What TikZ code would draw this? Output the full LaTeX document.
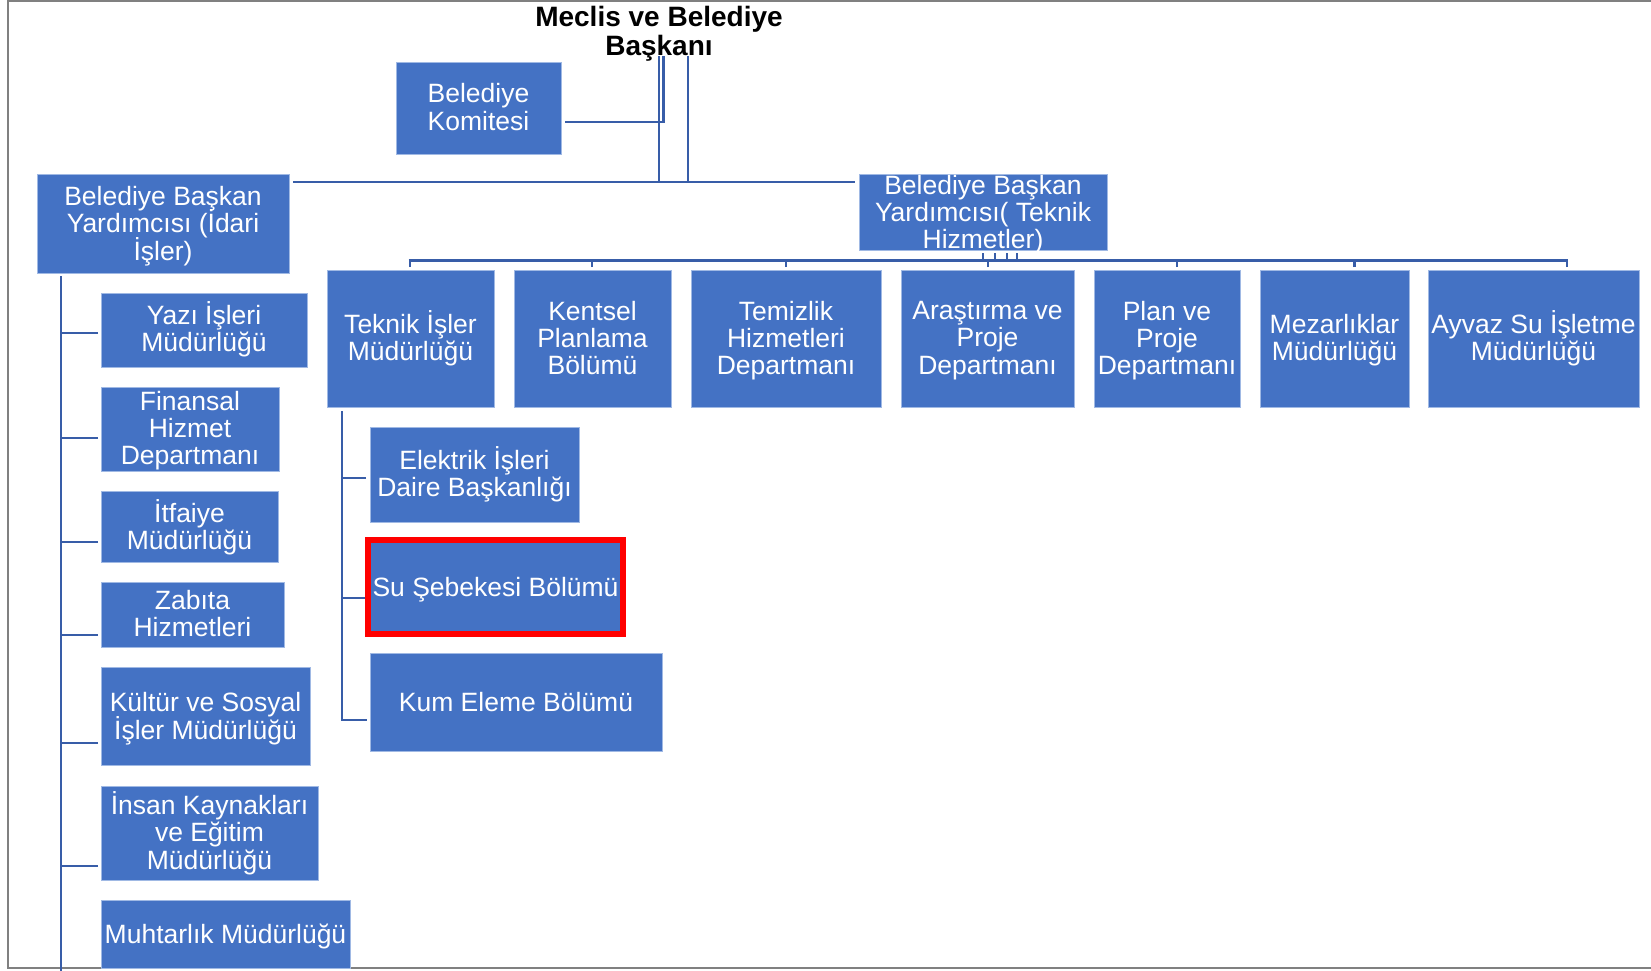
\documentclass[tikz,border=0pt]{standalone}
\usepackage{fontspec}
\setmainfont{Liberation Sans}
\usetikzlibrary{calc}
\definecolor{boxblue}{RGB}{68,114,196}
\definecolor{boxedge}{RGB}{160,185,228}
\definecolor{lineblue}{RGB}{56,93,168}
\definecolor{framegray}{RGB}{128,128,128}
\definecolor{hired}{RGB}{255,0,0}
\newcommand{\myboxfont}{\fontsize{26.5}{27.3}\selectfont}
\newcommand{\mytitlefont}{\bfseries\fontsize{28}{28.5}\selectfont}
\newcommand{\mytopstrut}{\rule{0pt}{26pt}}
\newcommand{\mybotstrut}{\rule[-6.5pt]{0pt}{6.5pt}}
\tikzset{
  box/.style={rectangle, fill=boxblue, draw=boxedge, line width=0.8pt,
    inner sep=0pt, outer sep=0pt},
  hibox/.style={box, draw=hired, line width=6pt},
  boxtext/.style={text=white, align=center, inner sep=0pt, outer sep=0pt, font=\myboxfont,
    execute at begin node=\mytopstrut, execute at end node=\mybotstrut},
  titletext/.style={align=center, inner sep=0pt, outer sep=0pt, font=\mytitlefont},
  conn/.style={draw=lineblue, line width=2.8pt, line cap=butt, line join=miter},
  frameline/.style={draw=framegray, line width=1.6pt}
}
% #1 style, #2 name, #3 cx, #4 cy, #5 width, #6 height, #7 text shift down, #8 text
\newcommand{\orgbox}[8]{%
  \node[#1, minimum width=#5pt, minimum height=#6pt] (#2) at (#3,#4) {};
  \node[boxtext] (#2-t) at ([yshift=-#7pt]#2.center) {#8};}
\begin{document}
\setlength{\lineskiplimit}{-100pt}
\begin{tikzpicture}[x=1pt,y=-1pt]
\useasboundingbox (0,0) rectangle (1651,970);
\draw[frameline] (1652,1) -- (8,1) -- (8,968) -- (1652,968);

% title
\node[titletext] (pres) at (659,34) {Meclis ve Belediye\\Başkanı};

% level 1
\orgbox{box}{kom}{478.5}{108}{165}{92}{2}{Belediye\\Komitesi}
\orgbox{box}{idari}{163}{223.5}{252}{99}{3}{Belediye Başkan\\Yardımcısı (İdari\\İşler)}
\orgbox{box}{tdep}{983}{212}{248}{76}{3}{Belediye Başkan\\Yardımcısı( Teknik\\Hizmetler)}

% technical row
\orgbox{box}{tis}{410.5}{338.5}{167}{137}{0}{Teknik İşler\\Müdürlüğü}
\orgbox{box}{ken}{592.5}{338.5}{157}{137}{2.5}{Kentsel\\Planlama\\Bölümü}
\orgbox{box}{tem}{786}{338.5}{190}{137}{2.5}{Temizlik\\Hizmetleri\\Departmanı}
\orgbox{box}{ara}{987.5}{338.5}{173}{137}{2.5}{Araştırma ve\\Proje\\Departmanı}
\orgbox{box}{plan}{1167}{338.5}{146}{137}{2.5}{Plan ve\\Proje\\Departmanı}
\orgbox{box}{mez}{1334.5}{338.5}{149}{137}{2}{Mezarlıklar\\Müdürlüğü}
\orgbox{box}{ayv}{1533.5}{338.5}{211}{137}{0}{Ayvaz Su İşletme\\Müdürlüğü}

% technical sub units
\orgbox{box}{elk}{474.5}{474.5}{209}{95}{0}{Elektrik İşleri\\Daire Başkanlığı}
\orgbox{hibox}{su}{495.5}{587}{255}{94}{0}{Su Şebekesi Bölümü}
\orgbox{box}{kum}{516}{702}{292}{98}{0}{Kum Eleme Bölümü}

% administrative column
\orgbox{box}{yazi}{204}{330}{206}{74}{0}{Yazı İşleri\\Müdürlüğü}
\orgbox{box}{fin}{190}{429}{178}{84}{2}{Finansal\\Hizmet\\Departmanı}
\orgbox{box}{itf}{189.5}{526.5}{177}{71}{1}{İtfaiye\\Müdürlüğü}
\orgbox{box}{zab}{192.5}{614.5}{183}{65}{2}{Zabıta\\Hizmetleri}
\orgbox{box}{kul}{205.5}{716}{209}{98}{3}{Kültür ve Sosyal\\İşler Müdürlüğü}
\orgbox{box}{ins}{209.5}{833}{217}{94}{0.5}{İnsan Kaynakları\\ve Eğitim\\Müdürlüğü}
\orgbox{box}{muh}{225.5}{934}{249}{68}{0}{Muhtarlık Müdürlüğü}

% connectors from the mayor
\coordinate (pA) at (659,56);
\coordinate (pB) at (688,56);
\coordinate (pK) at (663.5,56);
\draw[conn] (pK) |- ([xshift=4pt,yshift=-14pt]kom.east);
\draw[conn] (pA) -- ++(0,126) -| (pB);
\draw[conn] ([xshift=4pt,yshift=-8pt]idari.north east) -- ([xshift=-4pt,yshift=-8pt]tdep.north west);

% technical deputy bar
\coordinate (bL) at (408.6,260.5);
\coordinate (bR) at (1568.4,260.5);
\draw[conn] (bL) -- (bR);
\foreach \dx in {0,12,24,34} \draw[conn] ([xshift=\dx pt,yshift=-3pt]tdep.south) -- ++(0,7);
\foreach \n/\dx in {tis/-0.5,ken/-0.5,tem/0,ara/0.5,plan/10,mez/20,ayv/33.5}
  \draw[conn] ([xshift=\dx pt,yshift=3pt]\n.north) -- ++(0,-8.5);

% administrative tree
\coordinate (lT) at (61,276);
\coordinate (lB) at (61,972);
\draw[conn] (lT) -- (lB);
\foreach \n/\dy in {yazi/34,fin/33,itf/20,zab/12,kul/22,ins/14}
  \draw[conn] ([xshift=-3pt,yshift=\dy pt]\n.south west) -- ++(-38.4,0);

% technical works sub tree
\coordinate (tT) at (342,411);
\draw[conn] (tT) |- ([xshift=-3pt,yshift=31pt]kum.south west);
\draw[conn] ([xshift=-4pt,yshift=44pt]elk.south west) -- ++(-25.4,0);
\draw[conn] ([xshift=-3pt,yshift=36pt]su.south west) -- ++(-24.4,0);
\end{tikzpicture}
\end{document}
